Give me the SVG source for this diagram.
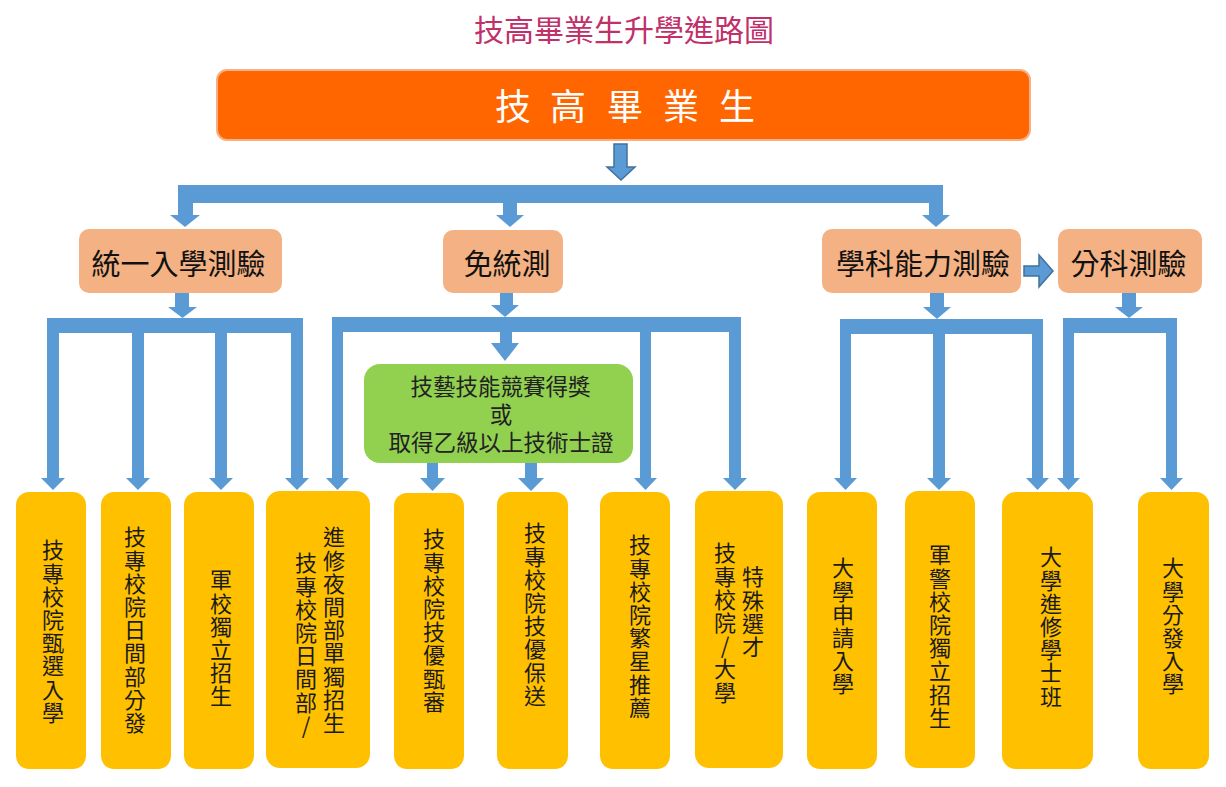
<svg xmlns="http://www.w3.org/2000/svg" width="1226" height="787" viewBox="0 0 1226 787">
<style>
text{font-family:"Noto Sans CJK TC","Noto Sans CJK SC",sans-serif;}
.top{fill:#FF6600;stroke:#F4B183;stroke-width:2;}
.l2{fill:#F4B183;}
.grn{fill:#92D050;}
.btm{fill:#FFC000;}
.c{fill:#5B9BD5;}
.blk{fill:#5B9BD5;stroke:#41719C;stroke-width:1.5;}
.t2{font-size:29px;fill:#111;text-anchor:middle;}
.tv{font-size:22px;fill:#1a1a1a;writing-mode:vertical-rl;text-orientation:upright;letter-spacing:1.2px;}
.tg{font-size:22.5px;fill:#222;text-anchor:middle;}
</style>
<rect width="1226" height="787" fill="#fff"/>
<text id="title" x="624" y="41" style="font-size:30px;fill:#C0306A;text-anchor:middle">技高畢業生升學進路圖</text>

<g id="connectors">
  <polygon class="blk" points="614,144 627,144 627,167 635,167 621,180 607,167 614,167"/>
  <rect class="c" x="178" y="185" width="765" height="18"/>
  <rect class="c" x="178" y="203" width="15" height="12"/><polygon class="c" points="170,215 200,215 185,227"/>
  <rect class="c" x="503" y="203" width="14" height="12"/><polygon class="c" points="496,215 524,215 510,227"/>
  <rect class="c" x="929" y="203" width="14" height="12"/><polygon class="c" points="922,215 950,215 936,227"/>

  <rect class="c" x="175" y="293" width="14" height="14"/><polygon class="c" points="168,307 197,307 182.5,318"/>
  <rect class="c" x="500" y="293" width="13" height="12"/><polygon class="c" points="491,305 519,305 505,317"/>
  <rect class="c" x="930" y="293" width="14" height="14"/><polygon class="c" points="923,307 951,307 937,319"/>
  <rect class="c" x="1122" y="293" width="14" height="14"/><polygon class="c" points="1115,307 1143,307 1129,318"/>

  <rect class="c" x="47" y="318" width="256" height="15"/>
  <rect class="c" x="47" y="333" width="12" height="145"/><polygon class="c" points="41,478 65,478 53,490"/>
  <rect class="c" x="132" y="333" width="12" height="145"/><polygon class="c" points="126,478 150,478 138,490"/>
  <rect class="c" x="215" y="333" width="12" height="145"/><polygon class="c" points="209,478 233,478 221,490"/>
  <rect class="c" x="291" y="333" width="12" height="145"/><polygon class="c" points="285,478 309,478 297,490"/>

  <rect class="c" x="332" y="317" width="409" height="15"/>
  <rect class="c" x="332" y="332" width="11" height="146"/><polygon class="c" points="326,478 349,478 337.5,490"/>
  <rect class="c" x="500" y="332" width="12" height="11"/><polygon class="c" points="491,343 519,343 505,361"/>
  <rect class="c" x="640" y="332" width="11" height="146"/><polygon class="c" points="634,478 657,478 645.5,490"/>
  <rect class="c" x="729" y="332" width="12" height="146"/><polygon class="c" points="723,478 747,478 735,490"/>
  <rect class="c" x="427" y="463" width="11" height="15"/><polygon class="c" points="420,478 445,478 432.5,491"/>
  <rect class="c" x="525" y="463" width="12" height="15"/><polygon class="c" points="518,478 544,478 531,491"/>

  <rect class="c" x="840" y="319" width="203" height="15"/>
  <rect class="c" x="840" y="334" width="11" height="144"/><polygon class="c" points="834,478 857,478 845.5,490"/>
  <rect class="c" x="933" y="334" width="12" height="144"/><polygon class="c" points="927,478 951,478 939,490"/>
  <rect class="c" x="1032" y="334" width="11" height="144"/><polygon class="c" points="1026,478 1049,478 1037.5,490"/>

  <rect class="c" x="1063" y="318" width="114" height="15"/>
  <rect class="c" x="1063" y="333" width="11" height="145"/><polygon class="c" points="1057,478 1080,478 1068.5,490"/>
  <rect class="c" x="1166" y="333" width="11" height="145"/><polygon class="c" points="1160,478 1183,478 1171.5,490"/>

  <polygon class="blk" points="1024,266 1039,266 1039,255 1053,271 1039,287 1039,276 1024,276"/>
</g>

<g id="n-root">
  <rect class="top" x="217" y="70" width="813" height="70" rx="10"/>
  <text x="513 541 568 596 625 653 681 709 737" y="120" style="font-size:36px;fill:#fff;text-anchor:middle">技 高 畢 業 生</text>
</g>
<g id="n-tongyi"><rect class="l2" x="79" y="229" width="203" height="64" rx="10"/><text class="t2" x="178.5" y="275">統一入學測驗</text></g>
<g id="n-mian"><rect class="l2" x="443" y="230" width="120" height="63" rx="10"/><text class="t2" x="507" y="275">免統測</text></g>
<g id="n-xueke"><rect class="l2" x="822" y="229" width="199" height="64" rx="10"/><text class="t2" x="923" y="275">學科能力測驗</text></g>
<g id="n-fenke"><rect class="l2" x="1058" y="229" width="144" height="64" rx="10"/><text class="t2" x="1128.5" y="275">分科測驗</text></g>
<g id="n-award">
  <rect class="grn" x="364" y="364" width="269" height="99" rx="16"/>
  <text class="tg" x="500.5" y="395">技藝技能競賽得獎</text>
  <text class="tg" x="501" y="423">或</text>
  <text class="tg" x="501" y="451">取得乙級以上技術士證</text>
</g>

<g id="b1"><rect class="btm" x="16" y="492" width="70" height="277" rx="13"/><text class="tv" x="53" y="539">技專校院甄選入學</text></g>
<g id="b2"><rect class="btm" x="101" y="492" width="70" height="277" rx="13"/><text class="tv" x="135" y="526">技專校院日間部分發</text></g>
<g id="b3"><rect class="btm" x="184" y="492" width="70" height="277" rx="13"/><text class="tv" x="221" y="569">軍校獨立招生</text></g>
<g id="b4"><rect class="btm" x="266" y="491" width="104" height="277" rx="14"/>
<text class="tv" x="334" y="526">進修夜間部單獨招生</text>
<text class="tv" x="306" y="552">技專校院日間部/</text></g>
<g id="b5"><rect class="btm" x="394" y="493" width="70" height="276" rx="13"/><text class="tv" x="434" y="528">技專校院技優甄審</text></g>
<g id="b6"><rect class="btm" x="497" y="492" width="71" height="277" rx="13"/><text class="tv" x="535" y="522">技專校院技優保送</text></g>
<g id="b7"><rect class="btm" x="600" y="492" width="70" height="277" rx="13"/><text class="tv" x="640" y="534">技專校院繁星推薦</text></g>
<g id="b8"><rect class="btm" x="695" y="491" width="88" height="277" rx="14"/>
<text class="tv" x="753" y="566">特殊選才</text>
<text class="tv" x="725" y="542">技專校院/大學</text></g>
<g id="b9"><rect class="btm" x="807" y="492" width="70" height="277" rx="13"/><text class="tv" x="843" y="557">大學申請入學</text></g>
<g id="b10"><rect class="btm" x="905" y="491" width="70" height="277" rx="13"/><text class="tv" x="940" y="544">軍警校院獨立招生</text></g>
<g id="b11"><rect class="btm" x="1002" y="492" width="91" height="277" rx="14"/><text class="tv" x="1051" y="546">大學進修學士班</text></g>
<g id="b12"><rect class="btm" x="1138" y="492" width="71" height="277" rx="13"/><text class="tv" x="1173" y="557">大學分發入學</text></g>
</svg>
